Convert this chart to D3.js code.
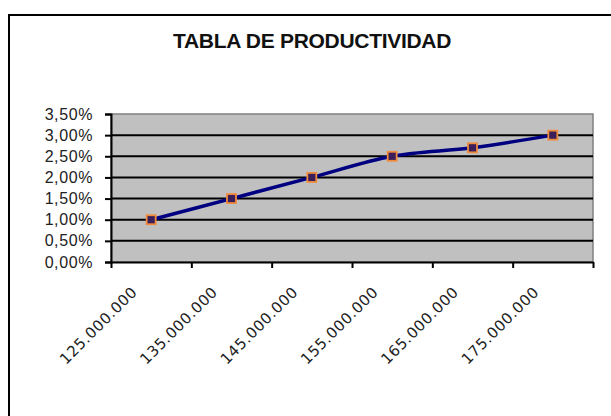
<!DOCTYPE html>
<html>
<head>
<meta charset="utf-8">
<script src="https://cdn.jsdelivr.net/npm/d3@7"></script>
<style>
  body { margin: 0; background: #fff; }
  svg { display: block; }
</style>
</head>
<body>
<script>
// chart data
var categories = [125000000, 135000000, 145000000, 155000000, 165000000, 175000000];
var productividad = [0.010, 0.015, 0.020, 0.025, 0.027, 0.030];
var yTicks = [0, 0.005, 0.010, 0.015, 0.020, 0.025, 0.030, 0.035];
var title = "TABLA DE PRODUCTIVIDAD";

var width = 611,
    height = 416;

var es = d3.formatLocale({decimal: ",", thousands: ".", grouping: [3], currency: ["", " €"]});
var fmtPct = es.format(".2%");
var fmtNum = es.format(",");

var svg = d3.select("body").append("svg")
    .attr("width", width)
    .attr("height", height);

// outer frame (only top and left show)
svg.append("rect")
    .attr("x", 9).attr("y", 15)
    .attr("width", width + 20).attr("height", height + 20)
    .attr("fill", "#fff")
    .attr("stroke", "#000")
    .attr("stroke-width", 2);

svg.append("text")
    .attr("x", 312)
    .attr("y", 48)
    .attr("text-anchor", "middle")
    .style("font-family", "'Liberation Sans', Arial, sans-serif")
    .style("font-weight", "bold")
    .style("font-size", "21px")
    .style("letter-spacing", "-0.3px")
    .attr("fill", "#111")
    .text(title);

// plot area
var plotLeft = 111, plotRight = 593, plotTop = 114, plotBottom = 262;

var x = d3.scaleBand()
    .domain(categories)
    .range([plotLeft, plotRight])
    .padding(0);

var xEdges = d3.scaleLinear()
    .domain([0, categories.length])
    .range([plotLeft, plotRight]);

var y = d3.scaleLinear()
    .domain([0, 0.035])
    .range([plotBottom, plotTop]);

var g = svg.append("g");

g.append("rect")
    .attr("x", plotLeft).attr("y", plotTop)
    .attr("width", plotRight - plotLeft).attr("height", plotBottom - plotTop)
    .attr("fill", "#c0c0c0")
    .attr("stroke", "#808080")
    .attr("stroke-width", 1.5);

g.selectAll(".grid")
    .data(yTicks.filter(function(d){ return d > 0 && d < 0.035; }))
  .enter().append("line")
    .attr("class", "grid")
    .attr("x1", plotLeft).attr("x2", plotRight)
    .attr("y1", function(d){ return y(d); })
    .attr("y2", function(d){ return y(d); })
    .attr("stroke", "#000")
    .attr("stroke-width", 2);

// y axis
var yAxis = g.append("g")
    .attr("transform", "translate(" + plotLeft + ",0)")
    .call(d3.axisLeft(y).tickValues(yTicks).tickFormat(fmtPct).tickSize(6).tickPadding(12));
yAxis.select(".domain").attr("stroke-width", 2);
yAxis.selectAll(".tick line").attr("stroke-width", 2);
yAxis.selectAll("text")
    .attr("dy", "0.32em")
    .style("font-family", "'Liberation Sans', Arial, sans-serif")
    .style("font-size", "16px")
    .style("letter-spacing", "0.6px")
    .attr("fill", "#222");

// x axis (ticks at category edges)
var xAxis = g.append("g")
    .attr("transform", "translate(0," + plotBottom + ")")
    .call(d3.axisBottom(xEdges).tickValues(d3.range(categories.length + 1)).tickFormat("").tickSize(6).tickSizeOuter(0));
xAxis.select(".domain").attr("stroke-width", 2);
xAxis.selectAll(".tick line").attr("stroke-width", 2);

g.selectAll(".xlabel")
    .data(categories)
  .enter().append("text")
    .attr("class", "xlabel")
    .attr("transform", function(d){
        var cx = x(d) + x.bandwidth() / 2;
        return "translate(" + (cx - 13) + "," + (plotBottom + 31) + ") rotate(-45)";
    })
    .attr("text-anchor", "end")
    .style("font-family", "'DejaVu Sans', Verdana, sans-serif")
    .style("font-size", "15px")
    .style("letter-spacing", "0.6px")
    .attr("fill", "#222")
    .text(function(d){ return fmtNum(d); });

// series
var line = d3.line()
    .x(function(d, i){ return x(categories[i]) + x.bandwidth() / 2; })
    .y(function(d){ return y(d); })
    .curve(d3.curveCatmullRom);

g.append("path")
    .datum(productividad)
    .attr("fill", "none")
    .attr("stroke", "#000080")
    .attr("stroke-width", 3.5)
    .attr("d", line);

g.selectAll(".point")
    .data(productividad)
  .enter().append("rect")
    .attr("class", "point")
    .attr("x", function(d, i){ return x(categories[i]) + x.bandwidth() / 2 - 4.5; })
    .attr("y", function(d){ return y(d) - 4.5; })
    .attr("width", 9).attr("height", 9)
    .attr("fill", "#3a1f5a")
    .attr("stroke", "#f08a3c")
    .attr("stroke-width", 1.8);
</script>
</body>
</html>
